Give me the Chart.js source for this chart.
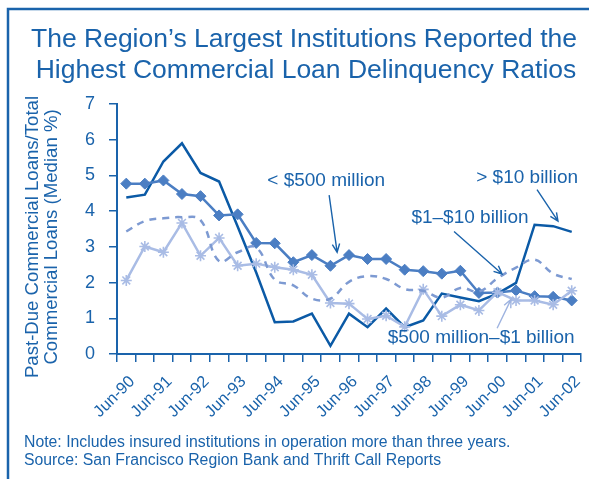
<!DOCTYPE html>
<html>
<head>
<meta charset="utf-8">
<script src="https://cdn.jsdelivr.net/npm/chart.js@4.4.1/dist/chart.umd.min.js"></script>
<style>
  html, body { margin: 0; padding: 0; background: #fff; }
  #chart { display: block; }
</style>
</head>
<body>
<canvas id="chart" width="589" height="479"></canvas>
<script>
// half-year periods, Jun-90 .. Jun-02
const periods = [
  'Jun-90', 'Dec-90', 'Jun-91', 'Dec-91', 'Jun-92', 'Dec-92', 'Jun-93', 'Dec-93',
  'Jun-94', 'Dec-94', 'Jun-95', 'Dec-95', 'Jun-96', 'Dec-96', 'Jun-97', 'Dec-97',
  'Jun-98', 'Dec-98', 'Jun-99', 'Dec-99', 'Jun-00', 'Dec-00', 'Jun-01', 'Dec-01',
  'Jun-02'
];
const yTicks = [0, 1, 2, 3, 4, 5, 6, 7];

// median past-due ratio (%) by asset size
const under500m = [4.77, 4.77, 4.86, 4.48, 4.42, 3.88, 3.91, 3.11, 3.10, 2.57, 2.77, 2.47, 2.77,
                   2.66, 2.66, 2.36, 2.32, 2.25, 2.33, 1.71, 1.72, 1.78, 1.62, 1.60, 1.50];
const from500mTo1b = [2.06, 3.01, 2.85, 3.67, 2.75, 3.25, 2.47, 2.53, 2.43, 2.36, 2.22, 1.43, 1.41,
                      0.98, 1.07, 0.76, 1.81, 1.06, 1.38, 1.22, 1.73, 1.50, 1.50, 1.38, 1.77];
const from1bTo10b = [3.43, 3.72, 3.80, 3.83, 3.75, 2.60, 2.85, 2.98, 2.08, 1.92, 1.55, 1.55, 2.02,
                     2.18, 2.10, 1.82, 1.77, 1.58, 1.85, 1.75, 2.12, 2.42, 2.64, 2.25, 2.10];
const over10b = [4.38, 4.46, 5.39, 5.90, 5.07, 4.83, 3.57, 2.28, 0.89, 0.91, 1.13, 0.23, 1.13,
                 0.75, 1.27, 0.75, 0.94, 1.69, 1.58, 1.48, 1.69, 1.99, 3.62, 3.58, 3.42];

const BLUE = '#1a63ab';
const FONT = '"Liberation Sans", Arial, Helvetica, sans-serif';

// callout labels, placed in data units (category index, value)
const callouts = [
  { text: '< $500 million', at: [10.77, 4.85], from: [10.93, 4.45], to: [11.36, 2.85], color: BLUE },
  { text: '> $10 billion', at: [21.6, 4.94], from: [22.13, 4.6], to: [23.26, 3.72], color: BLUE },
  { text: '$1\u2013$10 billion', at: [18.52, 3.82], from: [17.66, 3.43], to: [20.25, 2.24], color: BLUE },
  { text: '$500 million\u2013$1 billion', at: [19.12, 0.46], from: [19.98, 0.72], to: [20.73, 1.53], color: '#9fb4e0' }
];

function arrow(ctx, x1, y1, x2, y2, color) {
  const a = Math.atan2(y2 - y1, x2 - x1);
  const len = 9, spread = 0.42;
  ctx.save();
  ctx.strokeStyle = color;
  ctx.lineWidth = 1.4;
  ctx.beginPath();
  ctx.moveTo(x1, y1);
  ctx.lineTo(x2, y2);
  ctx.moveTo(x2 - len * Math.cos(a - spread), y2 - len * Math.sin(a - spread));
  ctx.lineTo(x2, y2);
  ctx.lineTo(x2 - len * Math.cos(a + spread), y2 - len * Math.sin(a + spread));
  ctx.stroke();
  ctx.restore();
}

const decorations = {
  id: 'decorations',
  afterDraw(chart) {
    const ctx = chart.ctx;
    const xs = chart.scales.x, ys = chart.scales.y;
    ctx.save();

    // frame along top and left
    ctx.strokeStyle = BLUE;
    ctx.lineWidth = 2.5;
    ctx.beginPath();
    ctx.moveTo(589, 9);
    ctx.lineTo(8, 9);
    ctx.lineTo(8, 479);
    ctx.stroke();

    ctx.fillStyle = BLUE;
    ctx.textAlign = 'center';
    ctx.textBaseline = 'alphabetic';
    ctx.font = '26.5px ' + FONT;
    ctx.fillText('The Region\u2019s Largest Institutions Reported the', 304, 47);
    ctx.fillText('Highest Commercial Loan Delinquency Ratios', 306, 78);

    // y axis title, two rotated lines
    ctx.save();
    ctx.translate(0, 237);
    ctx.rotate(-Math.PI / 2);
    ctx.font = '18.6px ' + FONT;
    ctx.textBaseline = 'middle';
    ctx.fillText('Past-Due Commercial Loans/Total', 0, 33);
    ctx.fillText('Commercial Loans (Median %)', 0, 52);
    ctx.restore();

    // notes
    ctx.textAlign = 'left';
    ctx.font = '15.8px ' + FONT;
    ctx.fillText('Note: Includes insured institutions in operation more than three years.', 24, 447);
    ctx.fillText('Source: San Francisco Region Bank and Thrift Call Reports', 24, 465);

    // callouts
    ctx.font = '19px ' + FONT;
    ctx.textAlign = 'center';
    ctx.textBaseline = 'middle';
    callouts.forEach(c => {
      ctx.fillStyle = BLUE;
      ctx.fillText(c.text, xs.getPixelForValue(c.at[0]), ys.getPixelForValue(c.at[1]));
      arrow(ctx,
        xs.getPixelForValue(c.from[0]), ys.getPixelForValue(c.from[1]),
        xs.getPixelForValue(c.to[0]), ys.getPixelForValue(c.to[1]), c.color);
    });
    ctx.restore();
  }
};

new Chart(document.getElementById('chart'), {
  type: 'line',
  data: {
    labels: periods,
    datasets: [
      {
        label: '$1\u2013$10 billion',
        data: from1bTo10b,
        borderColor: '#7d9ad2',
        borderWidth: 2.5,
        borderDash: [7, 6],
        tension: 0.4,
        pointRadius: 0
      },
      {
        label: '$500 million\u2013$1 billion',
        data: from500mTo1b,
        borderColor: '#a9bce5',
        backgroundColor: '#a9bce5',
        borderWidth: 2.5,
        pointStyle: 'star',
        pointRadius: 5.5,
        pointBorderWidth: 1.6
      },
      {
        label: '< $500 million',
        data: under500m,
        borderColor: '#4b7ec3',
        backgroundColor: '#4b7ec3',
        borderWidth: 2.5,
        pointStyle: 'rectRot',
        pointRadius: 5.5,
        pointBorderWidth: 1
      },
      {
        label: '> $10 billion',
        data: over10b,
        borderColor: '#0b5aa6',
        borderWidth: 2.5,
        pointRadius: 0
      }
    ]
  },
  options: {
    responsive: false,
    animation: false,
    devicePixelRatio: 1,
    layout: { padding: { left: 0, right: 8, top: 104, bottom: 0 } },
    plugins: {
      legend: { display: false },
      tooltip: { enabled: false }
    },
    scales: {
      x: {
        offset: true,
        afterFit: s => { s.height = 125; s.paddingLeft = 0; s.paddingRight = 0; },
        border: { color: BLUE, width: 2 },
        grid: { drawOnChartArea: false, offset: true, tickLength: 8, color: BLUE, lineWidth: 1.5 },
        ticks: {
          autoSkip: false,
          maxRotation: 45,
          minRotation: 45,
          padding: 10,
          labelOffset: 6,
          color: BLUE,
          font: { family: FONT, size: 16.5 },
          callback: (v, i) => (i % 2 === 0 ? periods[i] : '')
        }
      },
      y: {
        min: 0,
        max: 7,
        afterFit: s => { s.width = 117; },
        afterBuildTicks: s => { s.ticks = yTicks.map(v => ({ value: v })); },
        border: { color: BLUE, width: 2 },
        grid: { drawOnChartArea: false, tickLength: 8, color: BLUE, lineWidth: 1.5 },
        ticks: {
          padding: 14,
          color: BLUE,
          font: { family: FONT, size: 18 }
        }
      }
    }
  },
  plugins: [decorations]
});
</script>
</body>
</html>
